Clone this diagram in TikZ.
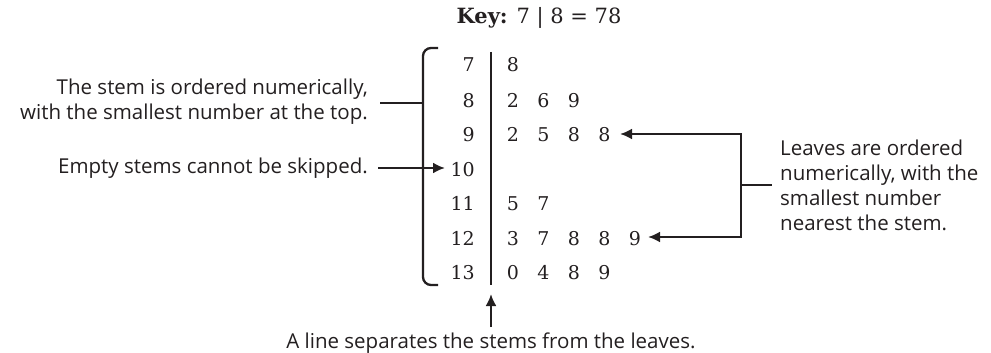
\documentclass[tikz,border=0pt]{standalone}
\usepackage{fontspec}
\setmainfont{Open Sans}
\newfontfamily\numfont{DejaVu Serif}
\usetikzlibrary{arrows.meta}
\definecolor{ink}{HTML}{231F20}
\begin{document}
\begin{tikzpicture}[x=1pt,y=-1pt,
  lbl/.style={font=\fontsize{20.5}{25}\selectfont, text=ink, inner sep=0pt},
  num/.style={font=\numfont\fontsize{19}{22}\selectfont, text=ink, inner sep=0pt},
  keystyle/.style={font=\numfont\fontsize{21}{24}\selectfont, text=ink, inner sep=0pt},
  conn/.style={draw=ink, line width=2.3pt},
  tip/.style={-{Latex[length=12pt,width=11pt]}}]
\useasboundingbox (0,0) rectangle (991,353);

% key
\node[keystyle] (key) at (539,18) {\textbf{Key:} 7 | 8 = 78};

% stems
\foreach \s/\y in {7/65,8/100,9/134,10/169,11/203,12/238,13/272}
  \node[num, anchor=base east] (s\s) at (475,\y+7) {\s};

% leaves
\foreach \r/\i/\v in {7/1/8, 8/1/2,8/2/6,8/3/9, 9/1/2,9/2/5,9/3/8,9/4/8,
   11/1/5,11/2/7, 12/1/3,12/2/7,12/3/8,12/4/8,12/5/9, 13/1/0,13/2/4,13/3/8,13/4/9}{
  \pgfmathsetmacro{\yy}{{0,0,0,0,0,0,0,65,100,134,169,203,238,272}[\r]}
  \pgfmathsetmacro{\xx}{482.5+30.5*\i}
  \node[num, anchor=base] (l\r-\i) at (\xx,\yy+7) {\v};
}

% separator
\coordinate (sepTop) at (491,52);
\coordinate (sepBot) at (491,285);
\draw[ink, line width=1.3pt] (sepTop) -- (sepBot);

% bracket
\coordinate (bA) at (438,48);
\coordinate (bB) at (423,48);
\coordinate (bC) at (423,285);
\coordinate (bD) at (438,285);
\draw[conn, rounded corners=8pt] (bA) -- (bB) -- (bC) -- (bD);

% left labels
\node[lbl, anchor=east, align=right] (stemlbl) at (368,102)
  {The stem is ordered numerically,\\with the smallest number at the top.};
\coordinate (brkL) at (380,103);
\coordinate (brkR) at (423,103);
\draw[conn] (brkL) -- (brkR);

\node[lbl, anchor=east] (emptylbl) at (368,168) {Empty stems cannot be skipped.};
\coordinate (eL) at (378,168);
\coordinate (eR) at (445,168);
\draw[conn, tip] (eL) -- (eR);

% right bracket
\coordinate (tipA) at (620,134);
\coordinate (tipB) at (648,237);
\coordinate (rTop) at (741,134);
\coordinate (rBot) at (741,237);
\coordinate (rMid) at (741,185);
\coordinate (rEnd) at (772,185);
\draw[conn, {Latex[length=12pt,width=11pt]}-{Latex[length=12pt,width=11pt]}] (tipA) -- (rTop) -- (rBot) -- (tipB);
\draw[conn] (rMid) -- (rEnd);
\node[lbl, anchor=west, align=left] (leaflbl) at (780,185)
  {Leaves are ordered\\numerically, with the\\smallest number\\nearest the stem.};

% bottom
\coordinate (bT) at (491,294);
\coordinate (bTail) at (491,327);
\draw[conn, tip] (bTail) -- (bT);
\node[lbl] (linelbl) at (491,343) {A line separates the stems from the leaves.};
\end{tikzpicture}
\end{document}
